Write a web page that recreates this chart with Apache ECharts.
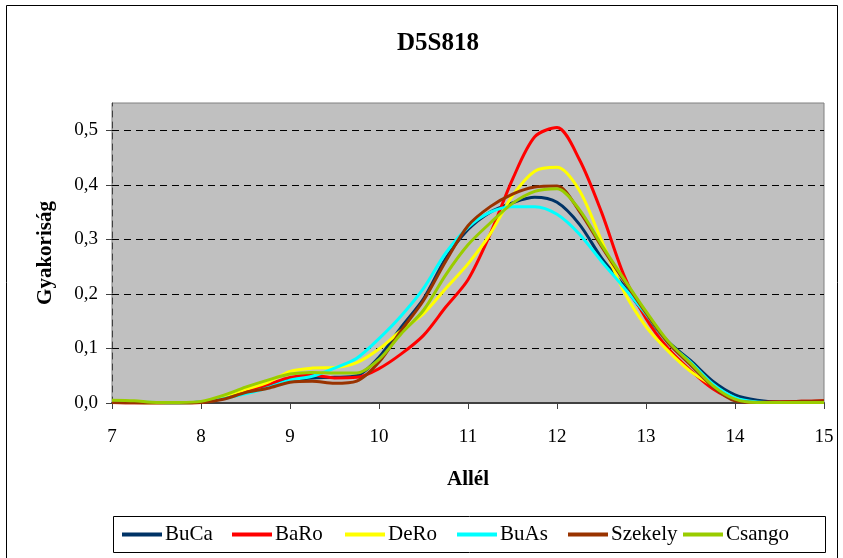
<!DOCTYPE html>
<html>
<head>
<meta charset="utf-8">
<script src="https://cdn.jsdelivr.net/npm/echarts@6/dist/echarts.min.js"></script>
<style>
html,body{margin:0;padding:0;background:#fff;}
#c{width:843px;height:558px;}
</style>
</head>
<body>
<div id="c"></div>
<script>
var alleles = [7, 7.25, 7.5, 7.75, 8, 8.25, 8.5, 8.75, 9, 9.25, 9.5, 9.75, 10, 10.25, 10.5, 10.75, 11, 11.25, 11.5, 11.75, 12, 12.25, 12.5, 12.75, 13, 13.25, 13.5, 13.75, 14, 14.25, 14.5, 14.75, 15];
var BuCa = [0.002, 0.001, 0, 0, 0.002, 0.009, 0.02, 0.031, 0.042, 0.046, 0.047, 0.05, 0.084, 0.139, 0.191, 0.265, 0.318, 0.35, 0.367, 0.377, 0.368, 0.328, 0.266, 0.215, 0.16, 0.112, 0.078, 0.04, 0.015, 0.005, 0.002, 0.002, 0.002];
var BaRo = [0.001, 0, 0, 0, 0.001, 0.01, 0.022, 0.034, 0.047, 0.051, 0.046, 0.047, 0.063, 0.09, 0.124, 0.176, 0.226, 0.31, 0.41, 0.488, 0.505, 0.447, 0.35, 0.235, 0.155, 0.1, 0.06, 0.026, 0.006, 0.001, 0.002, 0.003, 0.004];
var DeRo = [0.002, 0.001, 0, 0, 0.002, 0.012, 0.025, 0.038, 0.058, 0.064, 0.065, 0.074, 0.099, 0.133, 0.164, 0.21, 0.255, 0.31, 0.38, 0.425, 0.432, 0.39, 0.298, 0.205, 0.14, 0.095, 0.058, 0.032, 0.008, 0.001, 0.001, 0.001, 0.001];
var BuAs = [0.003, 0.002, 0.001, 0, 0.002, 0.008, 0.017, 0.028, 0.042, 0.049, 0.064, 0.082, 0.118, 0.16, 0.21, 0.275, 0.322, 0.35, 0.36, 0.36, 0.346, 0.31, 0.26, 0.212, 0.163, 0.11, 0.075, 0.035, 0.01, 0.002, 0.001, 0.001, 0.001];
var Szekely = [0.001, 0, 0, 0, 0.001, 0.007, 0.019, 0.027, 0.038, 0.04, 0.036, 0.04, 0.075, 0.133, 0.188, 0.26, 0.325, 0.36, 0.383, 0.396, 0.398, 0.352, 0.287, 0.225, 0.165, 0.11, 0.07, 0.03, 0.004, 0.001, 0.002, 0.003, 0.004];
var Csango = [0.005, 0.004, 0.001, 0.001, 0.003, 0.014, 0.029, 0.042, 0.053, 0.056, 0.055, 0.055, 0.08, 0.127, 0.17, 0.235, 0.29, 0.33, 0.366, 0.388, 0.393, 0.355, 0.29, 0.228, 0.168, 0.113, 0.073, 0.032, 0.007, 0.001, 0.001, 0.001, 0.001];

var seriesNames = ['BuCa', 'BaRo', 'DeRo', 'BuAs', 'Szekely', 'Csango'];
var seriesValues = [BuCa, BaRo, DeRo, BuAs, Szekely, Csango];
var seriesColors = ['#003366', '#FF0000', '#FFFF00', '#00FFFF', '#993300', '#99CC00'];
var yTicks = [0, 0.1, 0.2, 0.3, 0.4, 0.5];
var legendLeft = [122, 232, 345, 457, 568, 683];

var FONT = 'Liberation Serif';

function pairs(vals) {
  return alleles.map(function (a, i) { return [a, vals[i]]; });
}

var series = seriesNames.map(function (n, i) {
  return {
    name: n,
    type: 'line',
    data: pairs(seriesValues[i]),
    smooth: 0.3,
    symbol: 'none',
    lineStyle: { width: 3, color: seriesColors[i] },
    itemStyle: { color: seriesColors[i] },
    emphasis: { disabled: true },
    z: 3 + i
  };
});

var legends = seriesNames.map(function (n, i) {
  return {
    data: [n],
    left: legendLeft[i],
    top: 524,
    icon: 'rect',
    itemWidth: 40,
    itemHeight: 4,
    padding: 0,
    selectedMode: false,
    textStyle: { fontFamily: FONT, fontSize: 21, color: '#000', padding: [0, 0, 0, -2] }
  };
});

var chart = echarts.init(document.getElementById('c'), null, { renderer: 'canvas' });
chart.setOption({
  animation: false,
  backgroundColor: '#fff',
  title: {
    text: 'D5S818',
    left: 433,
    top: 26,
    textAlign: 'center',
    textStyle: { fontFamily: FONT, fontWeight: 'bold', fontSize: 25, color: '#000' }
  },
  legend: legends,
  grid: {
    left: 112, right: 19, top: 103, bottom: 155,
    show: true,
    backgroundColor: '#C0C0C0',
    borderColor: '#808080',
    borderWidth: 1
  },
  xAxis: {
    type: 'value',
    min: 7, max: 15, interval: 1,
    name: 'Allél',
    nameLocation: 'middle',
    nameGap: 66,
    nameTextStyle: { fontFamily: FONT, fontWeight: 'bold', fontSize: 21, color: '#000' },
    axisLine: { show: true, onZero: false, lineStyle: { color: '#404040', width: 2 } },
    axisTick: { show: true, inside: false, length: 6, lineStyle: { color: '#404040', width: 1 } },
    axisLabel: { fontFamily: FONT, fontSize: 19, color: '#000', margin: 25 },
    splitLine: { show: false }
  },
  yAxis: {
    type: 'value',
    min: 0, max: 0.55, interval: 0.1,
    name: 'Gyakoriság',
    nameLocation: 'middle',
    nameGap: 56,
    nameTextStyle: { fontFamily: FONT, fontWeight: 'bold', fontSize: 21, color: '#000' },
    axisLine: { show: true, lineStyle: { color: '#404040', width: 1, type: [6, 5] } },
    axisTick: { show: true, length: 6, customValues: yTicks, lineStyle: { color: '#404040' } },
    axisLabel: {
      fontFamily: FONT, fontSize: 19, color: '#000', margin: 14,
      customValues: yTicks,
      formatter: function (v) { return v.toFixed(1).replace('.', ','); }
    },
    splitLine: { show: true, lineStyle: { color: '#000', width: 1, type: [7, 5] } }
  },
  series: series,
  graphic: [
    { type: 'rect', shape: { x: 6.5, y: 5.5, width: 831, height: 570 }, style: { fill: 'none', stroke: '#000', lineWidth: 1 }, silent: true, z: -1 },
    { type: 'rect', shape: { x: 113.5, y: 516.5, width: 712, height: 36 }, style: { fill: 'none', stroke: '#000', lineWidth: 1 }, silent: true, z: 1 }
  ]
});
</script>
</body>
</html>
